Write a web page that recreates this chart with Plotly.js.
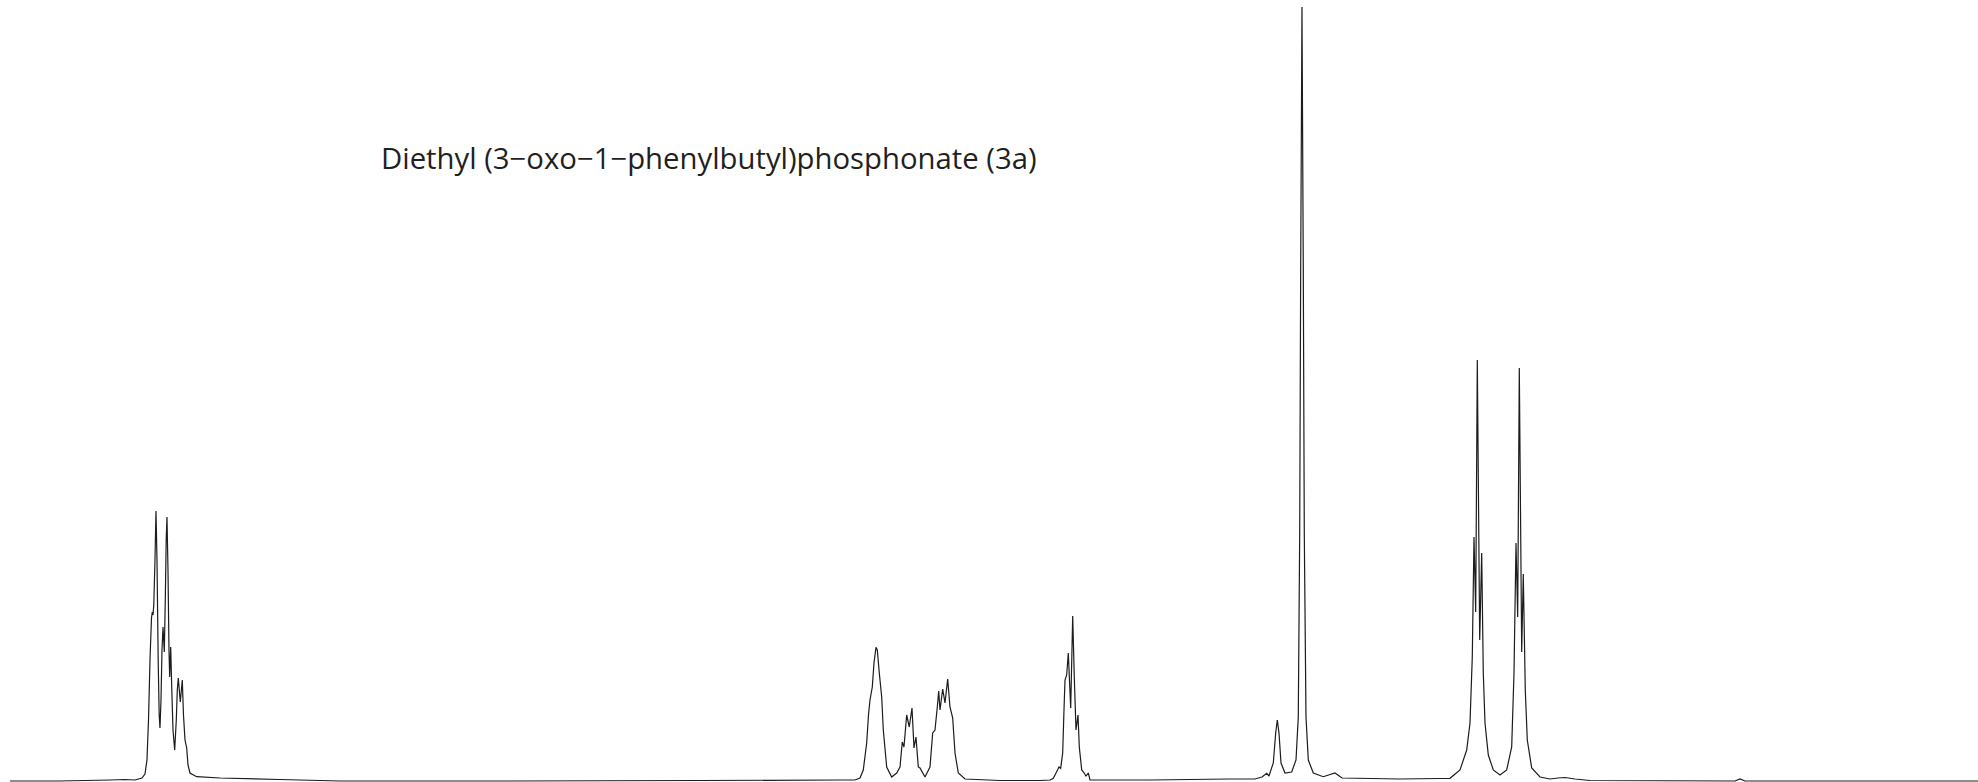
<!DOCTYPE html>
<html>
<head>
<meta charset="utf-8">
<script src="https://cdn.plot.ly/plotly-3.0.1.min.js"></script>
<style>
  html, body { margin: 0; padding: 0; background: #ffffff; }
  #spectrum { width: 1978px; height: 782px; }
</style>
</head>
<body>
<div id="spectrum"></div>
<script>
// 1H NMR trace: chemical shift (ppm) and relative intensity
const shiftPpm = [
  7.9091, 7.6818, 7.4545, 7.3864, 7.3409, 7.3091, 7.2955, 7.2864, 7.2795, 7.2727,
  7.2659, 7.2623, 7.2591, 7.2555, 7.2500, 7.2455, 7.2409, 7.2355, 7.2309, 7.2273,
  7.2227, 7.2182, 7.2136, 7.2077, 7.2032, 7.1991, 7.1955, 7.1909, 7.1864, 7.1832,
  7.1786, 7.1736, 7.1682, 7.1605, 7.1532, 7.1486, 7.1441, 7.1350, 7.1259, 7.1205,
  7.1136, 7.1059, 7.1000, 7.0909, 7.0605, 6.9545, 6.6818, 6.4091, 5.6818, 4.7727,
  4.1364,
  4.0682, 4.0455, 4.0305, 4.0150, 4.0068, 4.0000, 3.9895, 3.9818, 3.9727, 3.9668,
  3.9577, 3.9468, 3.9395, 3.9241, 3.9014, 3.8786, 3.8636, 3.8532, 3.8455, 3.8332,
  3.8214, 3.8091, 3.8000, 3.7909, 3.7805, 3.7727, 3.7500, 3.7273, 3.7150, 3.7045,
  3.6941, 3.6877, 3.6818, 3.6695, 3.6591, 3.6468, 3.6364, 3.6241, 3.6136, 3.5986,
  3.5682, 3.4091, 3.2273,
  3.1818, 3.1668, 3.1514, 3.1409, 3.1332, 3.1241, 3.1182, 3.1136, 3.1059, 3.0986,
  3.0877, 3.0786, 3.0714, 3.0636, 3.0545, 3.0486, 3.0377, 3.0295, 3.0182, 3.0077,
  3.0000, 2.7273, 2.3636,
  2.2500, 2.2182, 2.1968, 2.1864, 2.1668, 2.1559, 2.1486, 2.1409, 2.1318, 2.1136,
  2.0832, 2.0636, 2.0532, 2.0468, 2.0423, 2.0364, 2.0305, 2.0259, 2.0182, 2.0077,
  1.9850, 1.9395, 1.8864, 1.8545, 1.5909, 1.4091,
  1.3636, 1.3182, 1.2877, 1.2727, 1.2623, 1.2545, 1.2468, 1.2395, 1.2286, 1.2195,
  1.2123, 1.2045, 1.1895, 1.1668, 1.1364, 1.1059, 1.0832, 1.0727, 1.0636, 1.0559,
  1.0486, 1.0377, 1.0305, 1.0214, 1.0123, 0.9923, 0.9545, 0.9091, 0.8727, 0.8409,
  0.7955, 0.7273, 0.0682, 0.0455, 0.0227, -1.0364
];

const intensity = [
  0, 0, 1, 1.5, 1, 3, 7, 21, 61, 121,
  163, 169, 166, 176, 221, 270, 221, 121, 66, 53,
  81, 131, 154, 129, 181, 241, 264, 211, 131, 104,
  134, 91, 51, 31, 61, 91, 103, 79, 101, 66,
  41, 33, 16, 8, 4.3, 3, 1.5, 0, 0, 0.5,
  1,
  1, 3, 11, 38, 66, 81, 94, 118, 133.7, 131,
  108, 84, 51, 14, 4, 8, 14, 39, 34, 66,
  54, 73, 33, 44, 14, 13, 4, 14, 48, 51,
  74, 90, 71, 92, 78, 102, 74, 63, 28, 8,
  2, 0.5, 0.5,
  1, 2.7, 9.3, 14, 12.7, 28, 71, 101, 106, 128,
  73, 165, 104, 51, 66, 34, 11, 9, 5, 8,
  1, 1, 2,
  2, 4, 7.7, 5, 18, 48, 61, 48, 18, 8,
  9, 21, 64, 248, 514, 774, 514, 248, 64, 21,
  8, 4.3, 8, 3, 2, 2.5,
  2.7, 11, 31, 58, 124, 244, 169, 421, 141, 228,
  108, 58, 26, 11, 6, 11, 34, 108, 238, 164,
  413, 129, 207, 91, 41, 13, 4, 2, 3, 3.5,
  2, 0.5, 0, 2, 0, 0
];

const compoundName = 'Diethyl (3\u2212oxo\u22121\u2212phenylbutyl)phosphonate (3a)';

const trace = {
  type: 'scatter',
  mode: 'lines',
  x: shiftPpm,
  y: intensity,
  line: { color: '#1c1c1c', width: 1.2, simplify: false },
  hoverinfo: 'skip',
  showlegend: false
};

const layout = {
  width: 1978,
  height: 782,
  margin: { l: 0, r: 0, t: 0, b: 0, pad: 0 },
  paper_bgcolor: '#ffffff',
  plot_bgcolor: '#ffffff',
  xaxis: {
    range: [7.9545, -1.0364],
    visible: false,
    showgrid: false,
    zeroline: false,
    fixedrange: true
  },
  yaxis: {
    range: [-1, 781],
    visible: false,
    showgrid: false,
    zeroline: false,
    fixedrange: true
  },
  annotations: [{
    text: compoundName,
    xref: 'paper', yref: 'paper',
    x: 0.1918, y: 0.7975,
    xanchor: 'left', yanchor: 'middle',
    showarrow: false,
    font: { family: 'Open Sans, sans-serif', size: 29.3, color: '#231f20' }
  }]
};

Plotly.newPlot('spectrum', [trace], layout, { displayModeBar: false, staticPlot: true });
</script>
</body>
</html>
